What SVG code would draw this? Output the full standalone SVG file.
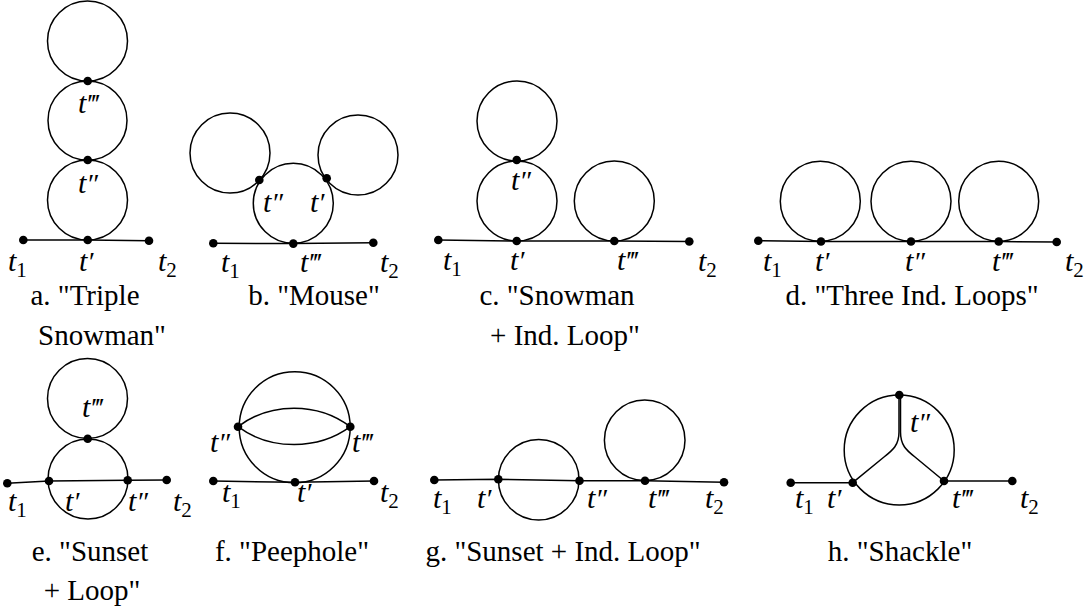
<svg xmlns="http://www.w3.org/2000/svg" width="1085" height="609" viewBox="0 0 1085 609" font-family="Liberation Serif, Times New Roman, Tinos, Noto Serif, DejaVu Serif, serif">
<style>
.e{fill:none;stroke:#000;stroke-width:1.5}
.v{fill:#000}
.l{font-style:italic;font-size:30px;fill:#000}
.s{font-style:normal;font-size:21px}
.p{font-size:28px}
.c{font-size:29px;fill:#000;text-anchor:middle}
</style>
<rect width="1085" height="609" fill="#fff"/>
<g id="connectors">
<circle class="e" cx="87.5" cy="41" r="40"/>
<circle class="e" cx="87.5" cy="120.5" r="39.5"/>
<circle class="e" cx="87.5" cy="200" r="40"/>
<polyline class="e" points="23.3,240 87.7,240 149,240.7"/>
<circle class="e" cx="230" cy="153" r="40"/>
<circle class="e" cx="358" cy="155" r="40"/>
<circle class="e" cx="293.3" cy="203.3" r="40"/>
<polyline class="e" points="213.3,243.3 293.3,243.6 373.3,242.7"/>
<circle class="e" cx="517" cy="121" r="40"/>
<circle class="e" cx="517" cy="201" r="40"/>
<circle class="e" cx="614.3" cy="201" r="40"/>
<polyline class="e" points="438.3,240 516.7,241 614.3,241 689.3,241.5"/>
<circle class="e" cx="820.3" cy="201.3" r="40"/>
<circle class="e" cx="911" cy="201.3" r="40"/>
<circle class="e" cx="998.7" cy="201.3" r="40"/>
<polyline class="e" points="758.3,240.7 821,241.5 911,241.5 998.7,241.5 1056.7,242"/>
<circle class="e" cx="87.5" cy="398.5" r="40"/>
<circle class="e" cx="88" cy="479" r="40"/>
<polyline class="e" points="7.3,483.3 49,481 127.7,480.3 166.7,480"/>
<circle class="e" cx="294.7" cy="427.3" r="55.5"/>
<path class="e" d="M238,426.7 C270,402 318,402 350.3,426.7"/>
<path class="e" d="M238,426.7 C270,450.5 318,450.5 350.3,426.7"/>
<polyline class="e" points="213.3,481 295,482.3 374,481"/>
<circle class="e" cx="538.7" cy="479.7" r="40.3"/>
<circle class="e" cx="644.7" cy="440.3" r="40.3"/>
<polyline class="e" points="434.3,480 498.3,479.3 579.5,480.7 645,480.7 724,482.3"/>
<circle class="e" cx="899.2" cy="450" r="55"/>
<path class="e" d="M899,395 L899,432 C899,445 893,450 884,457 L852.7,482.7"/>
<path class="e" d="M900.5,395 L900.5,432 C900.5,445 906,450 915,457 L944,481"/>
<polyline class="e" points="790.7,482.7 852.7,482.7"/>
<polyline class="e" points="944,481 1012.3,481"/>
</g>
<g id="panel-a">
<circle class="v" cx="87.7" cy="81" r="4.3"/>
<circle class="v" cx="87.7" cy="160" r="4.3"/>
<circle class="v" cx="23.3" cy="240" r="4.3"/>
<circle class="v" cx="87.7" cy="240" r="4.3"/>
<circle class="v" cx="149" cy="240.7" r="4.3"/>
<text class="l" x="78" y="113">t<tspan class="p">‴</tspan></text>
<text class="l" x="78" y="193">t<tspan class="p">″</tspan></text>
<text class="l" x="8" y="271">t<tspan class="s" dy="6">1</tspan></text>
<text class="l" x="79" y="271">t<tspan class="p">′</tspan></text>
<text class="l" x="158" y="271">t<tspan class="s" dy="6">2</tspan></text>
<text class="c" x="85" y="305">a. "Triple</text>
<text class="c" x="102" y="345">Snowman"</text>
</g>
<g id="panel-b">
<circle class="v" cx="259.3" cy="180" r="4.3"/>
<circle class="v" cx="326.7" cy="178.3" r="4.3"/>
<circle class="v" cx="213.3" cy="243.3" r="4.3"/>
<circle class="v" cx="293.3" cy="243.6" r="4.3"/>
<circle class="v" cx="373.3" cy="242.7" r="4.3"/>
<text class="l" x="263" y="212">t<tspan class="p">″</tspan></text>
<text class="l" x="310" y="212">t<tspan class="p">′</tspan></text>
<text class="l" x="221" y="272">t<tspan class="s" dy="6">1</tspan></text>
<text class="l" x="300" y="272">t<tspan class="p">‴</tspan></text>
<text class="l" x="380" y="272">t<tspan class="s" dy="6">2</tspan></text>
<text class="c" x="314" y="305">b. "Mouse"</text>
</g>
<g id="panel-c">
<circle class="v" cx="516.7" cy="160" r="4.3"/>
<circle class="v" cx="438.3" cy="240" r="4.3"/>
<circle class="v" cx="516.7" cy="241" r="4.3"/>
<circle class="v" cx="614.3" cy="241" r="4.3"/>
<circle class="v" cx="689.3" cy="241.5" r="4.3"/>
<text class="l" x="511" y="190">t<tspan class="p">″</tspan></text>
<text class="l" x="443" y="270">t<tspan class="s" dy="6">1</tspan></text>
<text class="l" x="510" y="270">t<tspan class="p">′</tspan></text>
<text class="l" x="617" y="270">t<tspan class="p">‴</tspan></text>
<text class="l" x="698" y="271">t<tspan class="s" dy="6">2</tspan></text>
<text class="c" x="557" y="305">c. "Snowman</text>
<text class="c" x="565" y="345">+ Ind. Loop"</text>
</g>
<g id="panel-d">
<circle class="v" cx="758.3" cy="240.7" r="4.3"/>
<circle class="v" cx="821" cy="241.5" r="4.3"/>
<circle class="v" cx="911" cy="241.5" r="4.3"/>
<circle class="v" cx="998.7" cy="241.5" r="4.3"/>
<circle class="v" cx="1056.7" cy="242" r="4.3"/>
<text class="l" x="763" y="271">t<tspan class="s" dy="6">1</tspan></text>
<text class="l" x="815" y="271">t<tspan class="p">′</tspan></text>
<text class="l" x="905" y="271">t<tspan class="p">″</tspan></text>
<text class="l" x="992" y="271">t<tspan class="p">‴</tspan></text>
<text class="l" x="1065" y="271">t<tspan class="s" dy="6">2</tspan></text>
<text class="c" x="912" y="305">d. "Three Ind. Loops"</text>
</g>
<g id="panel-e">
<circle class="v" cx="87.7" cy="438.7" r="4.3"/>
<circle class="v" cx="7.3" cy="483.3" r="4.3"/>
<circle class="v" cx="49" cy="481" r="4.3"/>
<circle class="v" cx="127.7" cy="480.3" r="4.3"/>
<circle class="v" cx="166.7" cy="480" r="4.3"/>
<text class="l" x="82" y="417">t<tspan class="p">‴</tspan></text>
<text class="l" x="8" y="511">t<tspan class="s" dy="6">1</tspan></text>
<text class="l" x="65" y="511">t<tspan class="p">′</tspan></text>
<text class="l" x="128" y="511">t<tspan class="p">″</tspan></text>
<text class="l" x="173" y="511">t<tspan class="s" dy="6">2</tspan></text>
<text class="c" x="90" y="561">e. "Sunset</text>
<text class="c" x="92" y="600">+ Loop"</text>
</g>
<g id="panel-f">
<circle class="v" cx="238" cy="426.7" r="4.3"/>
<circle class="v" cx="350.3" cy="426.7" r="4.3"/>
<circle class="v" cx="213.3" cy="481" r="4.3"/>
<circle class="v" cx="295" cy="482.3" r="4.3"/>
<circle class="v" cx="374" cy="481" r="4.3"/>
<text class="l" x="210" y="452">t<tspan class="p">″</tspan></text>
<text class="l" x="352" y="452">t<tspan class="p">‴</tspan></text>
<text class="l" x="222" y="502">t<tspan class="s" dy="6">1</tspan></text>
<text class="l" x="297" y="502">t<tspan class="p">′</tspan></text>
<text class="l" x="380" y="502">t<tspan class="s" dy="6">2</tspan></text>
<text class="c" x="292" y="561">f. "Peephole"</text>
</g>
<g id="panel-g">
<circle class="v" cx="434.3" cy="480" r="4.3"/>
<circle class="v" cx="498.3" cy="479.3" r="4.3"/>
<circle class="v" cx="579.5" cy="480.7" r="4.3"/>
<circle class="v" cx="645" cy="480.7" r="4.3"/>
<circle class="v" cx="724" cy="482.3" r="4.3"/>
<text class="l" x="433" y="508">t<tspan class="s" dy="6">1</tspan></text>
<text class="l" x="477" y="508">t<tspan class="p">′</tspan></text>
<text class="l" x="587" y="508">t<tspan class="p">″</tspan></text>
<text class="l" x="648" y="508">t<tspan class="p">‴</tspan></text>
<text class="l" x="705" y="508">t<tspan class="s" dy="6">2</tspan></text>
<text class="c" x="563" y="561">g. "Sunset + Ind. Loop"</text>
</g>
<g id="panel-h">
<circle class="v" cx="899.3" cy="395" r="4.3"/>
<circle class="v" cx="852.7" cy="482.7" r="4.3"/>
<circle class="v" cx="944" cy="481" r="4.3"/>
<circle class="v" cx="790.7" cy="482.7" r="4.3"/>
<circle class="v" cx="1012.3" cy="481" r="4.3"/>
<text class="l" x="910" y="432">t<tspan class="p">″</tspan></text>
<text class="l" x="795" y="508">t<tspan class="s" dy="6">1</tspan></text>
<text class="l" x="827" y="508">t<tspan class="p">′</tspan></text>
<text class="l" x="952" y="508">t<tspan class="p">‴</tspan></text>
<text class="l" x="1020" y="508">t<tspan class="s" dy="6">2</tspan></text>
<text class="c" x="900" y="561">h. "Shackle"</text>
</g>
</svg>
